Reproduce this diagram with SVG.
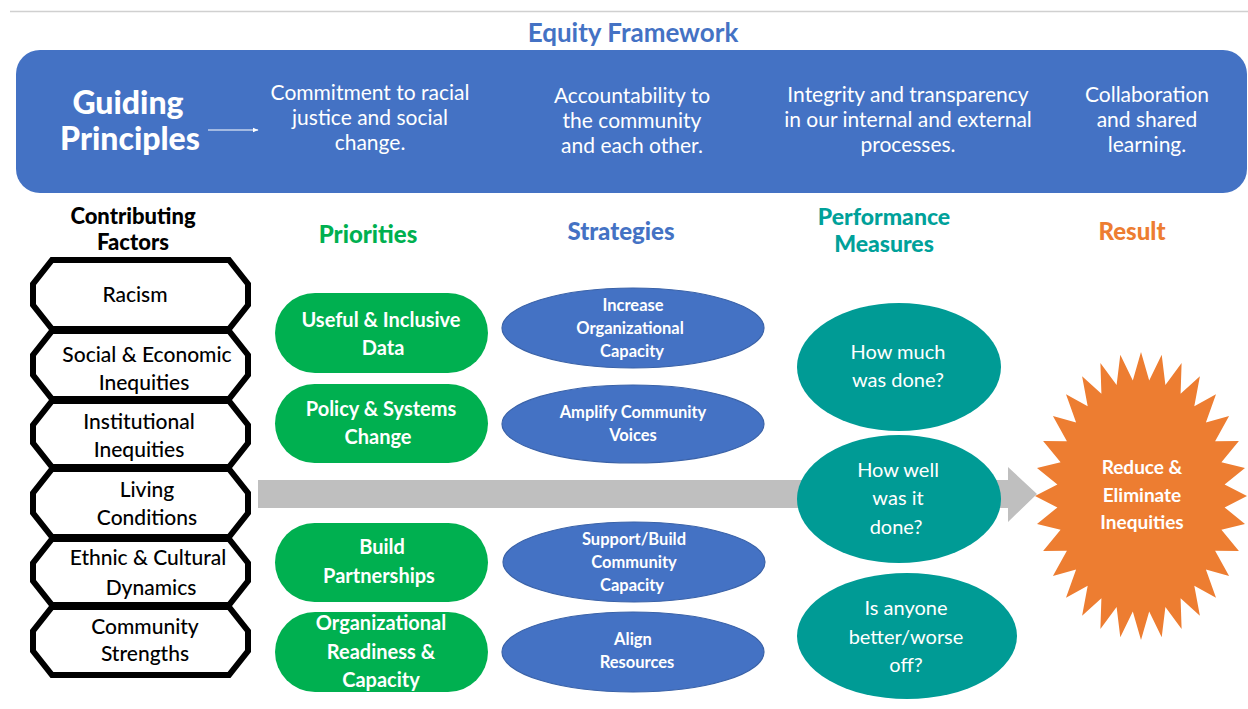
<svg xmlns="http://www.w3.org/2000/svg" width="1248" height="709" viewBox="0 0 1248 709">
<defs>
<marker id="wa" viewBox="0 0 10 10" refX="9" refY="5" markerWidth="6" markerHeight="6" orient="auto" markerUnits="userSpaceOnUse">
<path d="M0,1 L10,5 L0,9 z" fill="#ffffff"/>
</marker>
<style>
text{font-family:Lato,"Liberation Sans",sans-serif;text-anchor:middle}
.ttl{font-size:26px;fill:#4472C4;font-weight:bold}
.gp{font-size:32px;fill:#fff;font-weight:900}
.pr{font-size:21px;fill:#fff}
.hd{font-size:24px;font-weight:900}
.oct{fill:#fff;stroke:#000;stroke-width:6;stroke-linejoin:miter}
.ft{font-size:21px;fill:#000;font-weight:500}
.pill{fill:#00B050}
.pt{font-size:20px;fill:#fff;font-weight:bold}
.st{fill:#4472C4;stroke:#3A62A8;stroke-width:1.2}
.stt{font-size:16.5px;fill:#fff;font-weight:bold}
.pm{fill:#009B95}
.pmt{font-size:20px;fill:#fff}
.rt{font-size:19px;fill:#fff;font-weight:bold}
</style>
</defs>
<rect width="1248" height="709" fill="#ffffff"/>
<line x1="10" y1="11.5" x2="1248" y2="11.5" stroke="#D0D0D0" stroke-width="1.5"/>
<text class="ttl" x="633" y="42">Equity Framework</text>

<g id="banner">
<rect x="16" y="50" width="1231" height="143" rx="24" fill="#4472C4"/>
<text class="gp" x="128" y="114">Guiding</text>
<text class="gp" x="130" y="150">Principles</text>
</g>
<g id="principle1"><text class="pr" x="370" y="100">Commitment to racial</text><text class="pr" x="370" y="125">justice and social</text><text class="pr" x="370" y="150">change.</text></g>
<g id="principle2"><text class="pr" x="632" y="103">Accountability to</text><text class="pr" x="632" y="128">the community</text><text class="pr" x="632" y="153">and each other.</text></g>
<g id="principle3"><text class="pr" x="908" y="102">Integrity and transparency</text><text class="pr" x="908" y="127">in our internal and external</text><text class="pr" x="908" y="152">processes.</text></g>
<g id="principle4"><text class="pr" x="1147" y="102">Collaboration</text><text class="pr" x="1147" y="127">and shared</text><text class="pr" x="1147" y="152">learning.</text></g>

<g id="headers">
<text class="hd" x="133" y="224" style="font-size:22px">Contributing</text>
<text class="hd" x="133" y="250" style="font-size:22px">Factors</text>
<text class="hd" x="368" y="243" fill="#00B050">Priorities</text>
<text class="hd" x="621" y="240" fill="#4472C4">Strategies</text>
<text class="hd" x="884" y="225" fill="#00A19A" style="font-size:23px">Performance</text>
<text class="hd" x="884" y="252" fill="#00A19A" style="font-size:23px">Measures</text>
<text class="hd" x="1132" y="240" fill="#ED7D31">Result</text>
</g>

<g id="connectors">
<line x1="208" y1="130" x2="258" y2="130" stroke="#ffffff" stroke-width="1.2" marker-end="url(#wa)"/>
<polygon points="258,480 1008,480 1008,467 1037,494 1008,522 1008,508 258,508" fill="#BFBFBF"/>
</g>

<g id="f1"><polygon class="oct" points="52,260 229,260 248,284 248,305 229,329 52,329 33,305 33,284"/><text class="ft" x="135" y="302">Racism</text></g>
<g id="f2"><polygon class="oct" points="52,331 229,331 248,355 248,375 229,399 52,399 33,375 33,355"/><text class="ft" x="147" y="362">Social &amp; Economic</text><text class="ft" x="144" y="390">Inequities</text></g>
<g id="f3"><polygon class="oct" points="52,401 229,401 248,425 248,443 229,467 52,467 33,443 33,425"/><text class="ft" x="139" y="429">Institutional</text><text class="ft" x="139" y="457">Inequities</text></g>
<g id="f4"><polygon class="oct" points="52,469 229,469 248,493 248,513 229,537 52,537 33,513 33,493"/><text class="ft" x="147" y="497">Living</text><text class="ft" x="147" y="525">Conditions</text></g>
<g id="f5"><polygon class="oct" points="52,539 229,539 248,563 248,581 229,605 52,605 33,581 33,563"/><text class="ft" x="148" y="565">Ethnic &amp; Cultural</text><text class="ft" x="151" y="595">Dynamics</text></g>
<g id="f6"><polygon class="oct" points="52,607 229,607 248,631 248,651 229,675 52,675 33,651 33,631"/><text class="ft" x="145" y="634">Community</text><text class="ft" x="145" y="661">Strengths</text></g>

<g id="p1"><rect class="pill" x="275" y="293" width="213" height="80" rx="40"/><text class="pt" x="381" y="327">Useful &amp; Inclusive</text><text class="pt" x="383" y="355">Data</text></g>
<g id="p2"><rect class="pill" x="275" y="384" width="213" height="79" rx="39.5"/><text class="pt" x="381" y="416">Policy &amp; Systems</text><text class="pt" x="378" y="444">Change</text></g>
<g id="p3"><rect class="pill" x="275" y="523" width="213" height="79" rx="39.5"/><text class="pt" x="382" y="554">Build</text><text class="pt" x="379" y="583">Partnerships</text></g>
<g id="p4"><rect class="pill" x="275" y="612" width="213" height="80" rx="40"/><text class="pt" x="381" y="630">Organizational</text><text class="pt" x="381" y="659">Readiness &amp;</text><text class="pt" x="381" y="687">Capacity</text></g>

<g id="s1"><ellipse class="st" cx="633" cy="328" rx="131" ry="40"/><text class="stt" x="633" y="311">Increase</text><text class="stt" x="630" y="334">Organizational</text><text class="stt" x="632" y="357">Capacity</text></g>
<g id="s2"><ellipse class="st" cx="633" cy="424" rx="131" ry="39"/><text class="stt" x="633" y="418">Amplify Community</text><text class="stt" x="633" y="441">Voices</text></g>
<g id="s3"><ellipse class="st" cx="634" cy="562" rx="131" ry="40"/><text class="stt" x="634" y="545">Support/Build</text><text class="stt" x="634" y="568">Community</text><text class="stt" x="632" y="591">Capacity</text></g>
<g id="s4"><ellipse class="st" cx="633" cy="652" rx="131" ry="40"/><text class="stt" x="633" y="645">Align</text><text class="stt" x="637" y="668">Resources</text></g>

<g id="m1"><ellipse class="pm" cx="899" cy="367" rx="102" ry="64"/><text class="pmt" x="898" y="359">How much</text><text class="pmt" x="898" y="387">was done?</text></g>
<g id="m2"><ellipse class="pm" cx="899" cy="499" rx="102" ry="64"/><text class="pmt" x="898" y="477">How well</text><text class="pmt" x="898" y="505">was it</text><text class="pmt" x="896" y="534">done?</text></g>
<g id="m3"><ellipse class="pm" cx="907" cy="636" rx="110" ry="63"/><text class="pmt" x="906" y="615">Is anyone</text><text class="pmt" x="906" y="644">better/worse</text><text class="pmt" x="906" y="672">off?</text></g>

<g id="result">
<polygon fill="#ED7D31" points="1141,352 1149.2,380.6 1161.7,354.8 1165.4,385 1181.6,363 1180.6,393.7 1199.9,376.3 1194.3,406.3 1216,394.2 1205.9,422.4 1229.1,416 1215.1,441.3 1238.9,440.9 1221.4,462.3 1245,467.9 1224.6,484.6 1247,496 1224.6,507.4 1245,524.1 1221.4,529.7 1238.9,551.1 1215.1,550.7 1229.1,576 1205.9,569.6 1216,597.8 1194.3,585.7 1199.9,615.7 1180.6,598.3 1181.6,629 1165.4,607 1161.7,637.2 1149.2,611.4 1141,640 1132.8,611.4 1120.3,637.2 1116.6,607 1100.4,629 1101.4,598.3 1082.1,615.7 1087.7,585.7 1066,597.8 1076.1,569.6 1052.9,576 1066.9,550.7 1043.1,551.1 1060.6,529.7 1037,524.1 1057.4,507.4 1035,496 1057.4,484.6 1037,467.9 1060.6,462.3 1043.1,440.9 1066.9,441.3 1052.9,416 1076.1,422.4 1066,394.2 1087.7,406.3 1082.1,376.3 1101.4,393.7 1100.4,363 1116.6,385 1120.3,354.8 1132.8,380.6"/>
<text class="rt" x="1142" y="474">Reduce &amp;</text>
<text class="rt" x="1142" y="502">Eliminate</text>
<text class="rt" x="1142" y="529">Inequities</text>
</g>
</svg>
